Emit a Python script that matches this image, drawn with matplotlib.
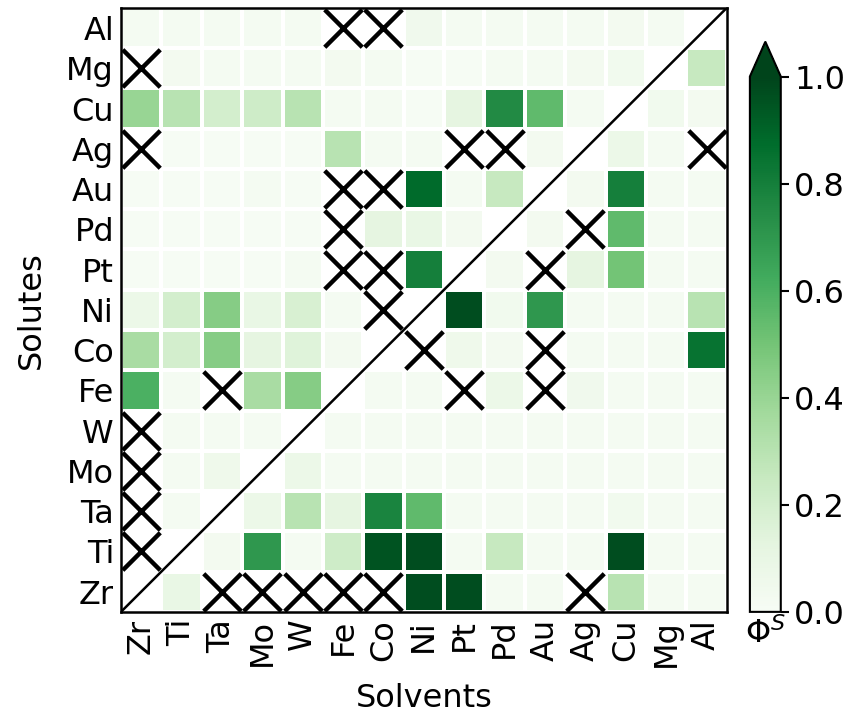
import numpy as np
import matplotlib.pyplot as plt

# Solutes top to bottom, solvents left to right
solutes = ['Al', 'Mg', 'Cu', 'Ag', 'Au', 'Pd', 'Pt', 'Ni', 'Co', 'Fe', 'W', 'Mo', 'Ta', 'Ti', 'Zr']
solvents = ['Zr', 'Ti', 'Ta', 'Mo', 'W', 'Fe', 'Co', 'Ni', 'Pt', 'Pd', 'Au', 'Ag', 'Cu', 'Mg', 'Al']

N = np.nan  # diagonal / no value
phi = np.array([
    # Zr    Ti    Ta    Mo    W     Fe    Co    Ni    Pt    Pd    Au    Ag    Cu    Mg    Al
    [0.02, 0.02, 0.02, 0.02, 0.02, N,    N,    0.05, 0.02, 0.02, 0.02, 0.02, 0.03, 0.02, N],     # Al
    [N,    0.03, 0.02, 0.02, 0.02, 0.03, 0.02, 0.01, 0.01, 0.02, 0.02, 0.03, 0.04, N,    0.25],  # Mg
    [0.40, 0.30, 0.20, 0.22, 0.30, 0.02, 0.02, 0.01, 0.12, 0.75, 0.55, 0.02, N,    0.04, 0.03],  # Cu
    [N,    0.01, 0.01, 0.01, 0.01, 0.30, 0.02, 0.02, N,    N,    0.03, N,    0.08, 0.02, N],     # Ag
    [0.01, 0.01, 0.01, 0.02, 0.01, N,    N,    0.88, 0.02, 0.25, N,    0.03, 0.80, 0.02, 0.02],  # Au
    [0.01, 0.01, 0.01, 0.01, 0.01, N,    0.12, 0.10, 0.03, N,    0.03, N,    0.55, 0.02, 0.02],  # Pd
    [0.01, 0.01, 0.01, 0.01, 0.02, N,    N,    0.80, N,    0.03, N,    0.12, 0.50, 0.02, 0.02],  # Pt
    [0.08, 0.20, 0.45, 0.10, 0.18, 0.02, N,    N,    0.97, 0.04, 0.70, 0.02, 0.02, 0.02, 0.30],  # Ni
    [0.35, 0.20, 0.45, 0.12, 0.15, 0.03, N,    N,    0.06, 0.03, N,    0.02, 0.02, 0.02, 0.85],  # Co
    [0.60, 0.02, N,    0.35, 0.45, N,    0.02, 0.02, N,    0.08, N,    0.05, 0.02, 0.02, 0.02],  # Fe
    [N,    0.02, 0.02, 0.02, N,    0.02, 0.02, 0.02, 0.02, 0.02, 0.02, 0.02, 0.02, 0.02, 0.02],  # W
    [N,    0.02, 0.06, N,    0.08, 0.02, 0.02, 0.02, 0.02, 0.02, 0.02, 0.02, 0.02, 0.02, 0.02],  # Mo
    [N,    0.02, N,    0.08, 0.30, 0.12, 0.78, 0.55, 0.02, 0.02, 0.02, 0.02, 0.04, 0.02, 0.02],  # Ta
    [N,    N,    0.03, 0.70, 0.02, 0.22, 0.95, 0.97, 0.02, 0.25, 0.02, 0.02, 0.97, 0.02, 0.02],  # Ti
    [N,    0.10, N,    N,    N,    N,    N,    0.97, 0.97, 0.02, 0.02, N,    0.30, 0.02, 0.02],  # Zr
])

# (solute, solvent) pairs marked with a cross
crossed = [
    ('Al', 'Fe'), ('Al', 'Co'),
    ('Mg', 'Zr'),
    ('Ag', 'Zr'), ('Ag', 'Pt'), ('Ag', 'Pd'), ('Ag', 'Al'),
    ('Au', 'Fe'), ('Au', 'Co'),
    ('Pd', 'Fe'), ('Pd', 'Ag'),
    ('Pt', 'Fe'), ('Pt', 'Co'), ('Pt', 'Au'),
    ('Ni', 'Co'),
    ('Co', 'Ni'), ('Co', 'Au'),
    ('Fe', 'Ta'), ('Fe', 'Pt'), ('Fe', 'Au'),
    ('W', 'Zr'), ('Mo', 'Zr'), ('Ta', 'Zr'), ('Ti', 'Zr'),
    ('Zr', 'Ta'), ('Zr', 'Mo'), ('Zr', 'W'), ('Zr', 'Fe'), ('Zr', 'Co'), ('Zr', 'Ag'),
]

fs = 23

fig = plt.figure(figsize=(8.58, 7.19), dpi=100)
ax = fig.add_axes([0.141, 0.149, 0.706, 0.840])
cax = fig.add_axes([0.874, 0.149, 0.036, 0.793])

mesh = ax.pcolormesh(np.ma.masked_invalid(phi), cmap='Greens', vmin=0, vmax=1,
                     edgecolors='white', linewidth=1.5)
ax.set_xlim(0, len(solvents))
ax.set_ylim(len(solutes), 0)

xs = [solvents.index(v) + 0.5 for s, v in crossed]
ys = [solutes.index(s) + 0.5 for s, v in crossed]
ax.scatter(xs, ys, marker='x', s=27**2, linewidths=3.2, c='black', zorder=3)

# diagonal line
ax.plot([0, len(solvents)], [len(solutes), 0], color='black', lw=1.8, zorder=4)

ax.set_xticks(np.arange(len(solvents)) + 0.5, solvents, rotation=90)
ax.set_yticks(np.arange(len(solutes)) + 0.5, solutes)
ax.tick_params(length=0, labelsize=fs, pad=5)
ax.set_xlabel('Solvents', fontsize=fs, labelpad=12)
ax.set_ylabel('Solutes', fontsize=fs, labelpad=14)
for sp in ax.spines.values():
    sp.set_linewidth(1.8)

cb = fig.colorbar(mesh, cax=cax, extend='max', extendfrac=0.065)
cb.set_ticks([0, 0.2, 0.4, 0.6, 0.8, 1.0])
cb.ax.tick_params(labelsize=fs, length=6, width=1.5)
cb.outline.set_linewidth(1.5)
cb.ax.set_xlabel(r'$\Phi^S$', fontsize=fs, labelpad=4)

fig.savefig('out.png', dpi=100)
